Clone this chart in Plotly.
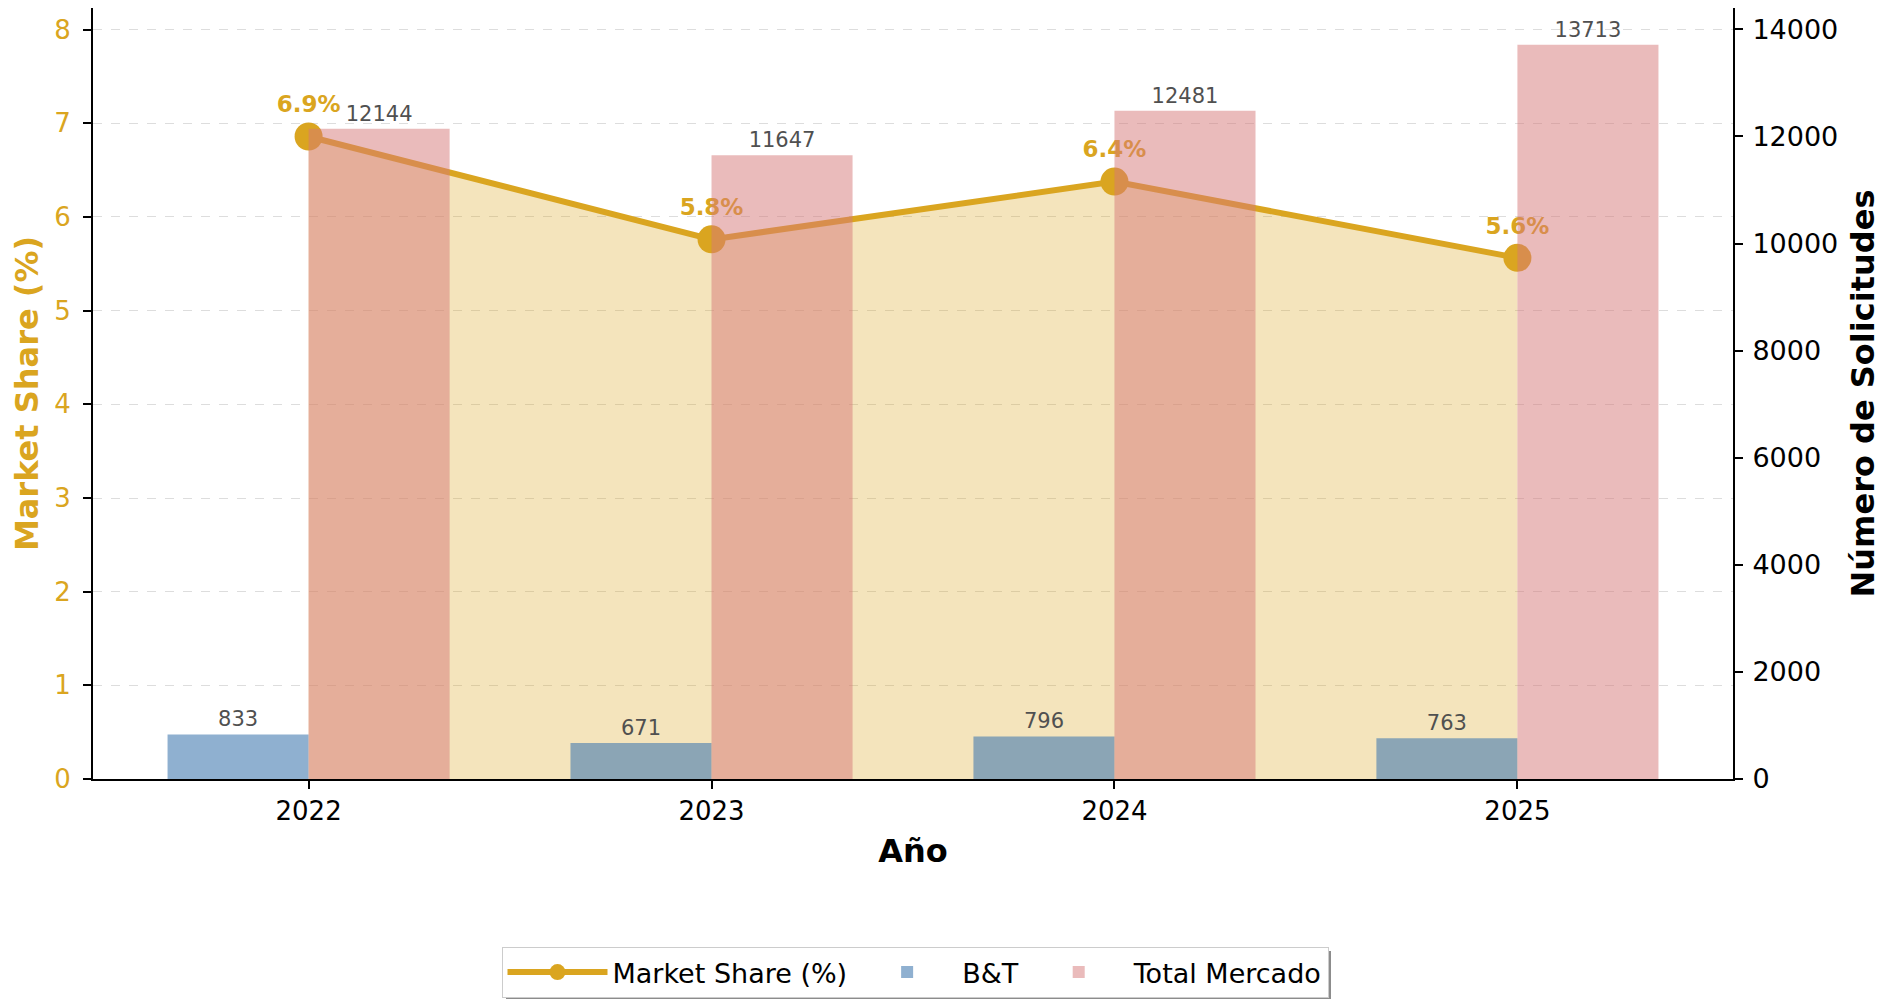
import plotly.graph_objects as go
from plotly.subplots import make_subplots

years = [2022, 2023, 2024, 2025]
bt_values = [833, 671, 796, 763]
total_values = [12144, 11647, 12481, 13713]
share_values = [b / t * 100 for b, t in zip(bt_values, total_values)]
share_labels = [f"{v:.1f}%" for v in share_values]

GOLD = "#DAA520"
FONT = "DejaVu Sans"

# page body has an 8px margin; work in figure coordinates
OFF = 8
W, H = 1900 - OFF, 1002 - OFF
L, R, T, B = 93 - OFF, 1733 - OFF, 0, 779 - OFF

def px_x(p):
    return (p - OFF - L) / (R - L)

def px_y(p):
    return (B - (p - OFF)) / (B - T)

fig = make_subplots(specs=[[{"secondary_y": True}]])

fig.add_trace(go.Scatter(
    x=years, y=share_values, mode="none", fill="tozeroy",
    fillcolor="rgba(218,165,32,0.3)", showlegend=False, hoverinfo="skip"),
    secondary_y=False)

fig.add_trace(go.Scatter(
    x=years, y=share_values, mode="lines+markers+text", name="Market Share (%)",
    line=dict(color=GOLD, width=6),
    marker=dict(color=GOLD, size=28),
    text=share_labels, textposition="top center",
    textfont=dict(family=FONT, size=23, color=GOLD, weight="bold"),
    cliponaxis=False),
    secondary_y=False)

fig.add_trace(go.Bar(
    x=years, y=bt_values, name="B&T", width=0.35, offset=-0.35,
    marker=dict(color="rgba(68,123,177,0.6)", line=dict(width=0)),
    text=[str(v) for v in bt_values], textposition="outside",
    outsidetextfont=dict(family=FONT, size=21, color="#505050"),
    constraintext="none", cliponaxis=False),
    secondary_y=True)

fig.add_trace(go.Bar(
    x=years, y=total_values, name="Total Mercado", width=0.35, offset=0,
    marker=dict(color="rgba(214,120,120,0.5)", line=dict(width=0)),
    text=[str(v) for v in total_values], textposition="outside",
    outsidetextfont=dict(family=FONT, size=21, color="#505050"),
    constraintext="none", cliponaxis=False),
    secondary_y=True)

fig.update_layout(
    width=W, height=H,
    margin=dict(l=L, r=W - R, t=T, b=H - B, autoexpand=False),
    paper_bgcolor="white", plot_bgcolor="white",
    barmode="overlay",
    font=dict(family=FONT, color="black"),
    showlegend=True,
    legend=dict(
        orientation="h", x=px_x(915), xanchor="center", y=px_y(947), yanchor="top",
        font=dict(family=FONT, size=27, color="black"),
        bgcolor="white", bordercolor="#cccccc", borderwidth=1,
        traceorder="normal", itemwidth=100,
    ),
)

# legend drop shadow
fig.add_shape(type="rect", xref="paper", yref="paper",
              x0=px_x(506), x1=px_x(1331), y0=px_y(999), y1=px_y(951),
              fillcolor="#8c8c8c", line=dict(width=0), layer="above")

fig.update_xaxes(
    domain=[0, 1],
    range=[2021.465, 2025.535], tickvals=years, ticktext=[str(y) for y in years],
    showline=True, linecolor="black", linewidth=2, mirror=False,
    ticks="outside", ticklen=8, tickwidth=2, tickcolor="black",
    tickfont=dict(family=FONT, size=26, color="black"),
    showgrid=False, zeroline=False, automargin=False,
    title=dict(text="Año", font=dict(family=FONT, size=32, color="black", weight="bold"), standoff=14),
)

fig.update_yaxes(
    range=[0, max(share_values) * 1.2], dtick=1,
    showline=True, linecolor="black", linewidth=2,
    ticks="outside", ticklen=8, tickwidth=2, tickcolor="black",
    tickfont=dict(family=FONT, size=26, color=GOLD), ticklabelstandoff=7,
    showgrid=True, gridcolor="#dddddd", gridwidth=1, griddash="dash",
    zeroline=False, automargin=False,
    title=dict(text="Market Share (%)", font=dict(family=FONT, size=32, color=GOLD, weight="bold"), standoff=12),
    secondary_y=False,
)

fig.update_yaxes(
    range=[0, max(total_values) * 1.05], dtick=2000, tickformat="d",
    showline=True, linecolor="black", linewidth=2,
    ticks="outside", ticklen=8, tickwidth=2, tickcolor="black",
    tickfont=dict(family=FONT, size=27, color="black"), ticklabelstandoff=4,
    showgrid=False, zeroline=False, automargin=False,
    title=dict(text="Número de Solicitudes", font=dict(family=FONT, size=32, color="black", weight="bold"), standoff=14),
    secondary_y=True,
)

fig.write_html("out.html")
